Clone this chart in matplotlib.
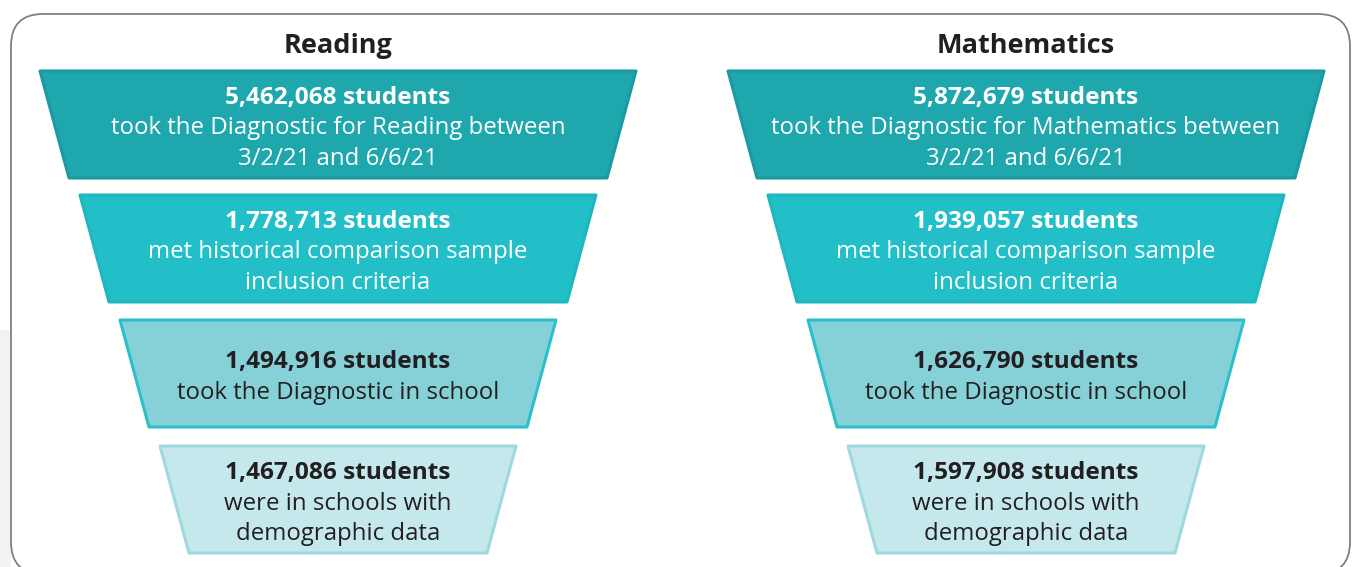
import matplotlib.pyplot as plt
from matplotlib.patches import Polygon, FancyBboxPatch, Rectangle

plt.rcParams['font.family'] = ['Open Sans', 'DejaVu Sans']

# panel titles and funnel contents
titles = ['Reading', 'Mathematics']
counts = [
    ['5,462,068', '1,778,713', '1,494,916', '1,467,086'],
    ['5,872,679', '1,939,057', '1,626,790', '1,597,908'],
]
captions = [
    ['took the Diagnostic for Reading between\n3/2/21 and 6/6/21',
     'met historical comparison sample\ninclusion criteria',
     'took the Diagnostic in school',
     'were in schools with\ndemographic data'],
    ['took the Diagnostic for Mathematics between\n3/2/21 and 6/6/21',
     'met historical comparison sample\ninclusion criteria',
     'took the Diagnostic in school',
     'were in schools with\ndemographic data'],
]

fills = ['#1fa7ae', '#22bfc9', '#86d1d8', '#c5e8ec']
edges = ['#1b9aa1', '#1fb6c0', '#2bc0c9', '#9dd9df']
txtcol = ['white', 'white', '#231f20', '#231f20']

fig = plt.figure(figsize=(13.53, 5.67), dpi=100)
ax = fig.add_axes([0, 0, 1, 1])
ax.set_xlim(0, 1353)
ax.set_ylim(567, 0)
ax.axis('off')

# faint grey strip left of the frame
ax.add_patch(Rectangle((0, 330), 11, 237, fc='#f3f2f1', ec='none'))

# outer rounded frame (bottom edge runs just past the image)
frame = FancyBboxPatch((11, 14), 1339, 560, boxstyle='round,pad=0,rounding_size=32',
                       fc='white', ec='#808080', lw=1.3)
ax.add_patch(frame)

tops = [71, 195, 320, 446]
height = 107
inset = 29
for p in range(2):
    x0 = 40 + p * 688
    cx = x0 + 298
    ax.text(cx, 46, titles[p], ha='center', va='center', fontsize=19.5,
            fontweight='bold', color='#231f20')
    for i in range(4):
        left = x0 + 40 * i
        right = x0 + 596 - 40 * i
        top = tops[i]
        bot = top + height
        pts = [(left, top), (right, top), (right - inset, bot), (left + inset, bot)]
        ax.add_patch(Polygon(pts, closed=True, fc=fills[i], ec=edges[i], lw=2.2,
                             joinstyle='round'))
        lines = captions[p][i].split('\n')
        n = len(lines) + 1
        step = 30.7
        y0 = top + height / 2 - (n - 1) * step / 2 + 4
        ax.text(cx, y0, counts[p][i] + ' students', ha='center', va='center',
                fontsize=17.6, fontweight='bold', color=txtcol[i])
        for k, ln in enumerate(lines):
            ax.text(cx, y0 + (k + 1) * step, ln, ha='center', va='center',
                    fontsize=17.3, color=txtcol[i])

fig.savefig('out.png', dpi=100)
